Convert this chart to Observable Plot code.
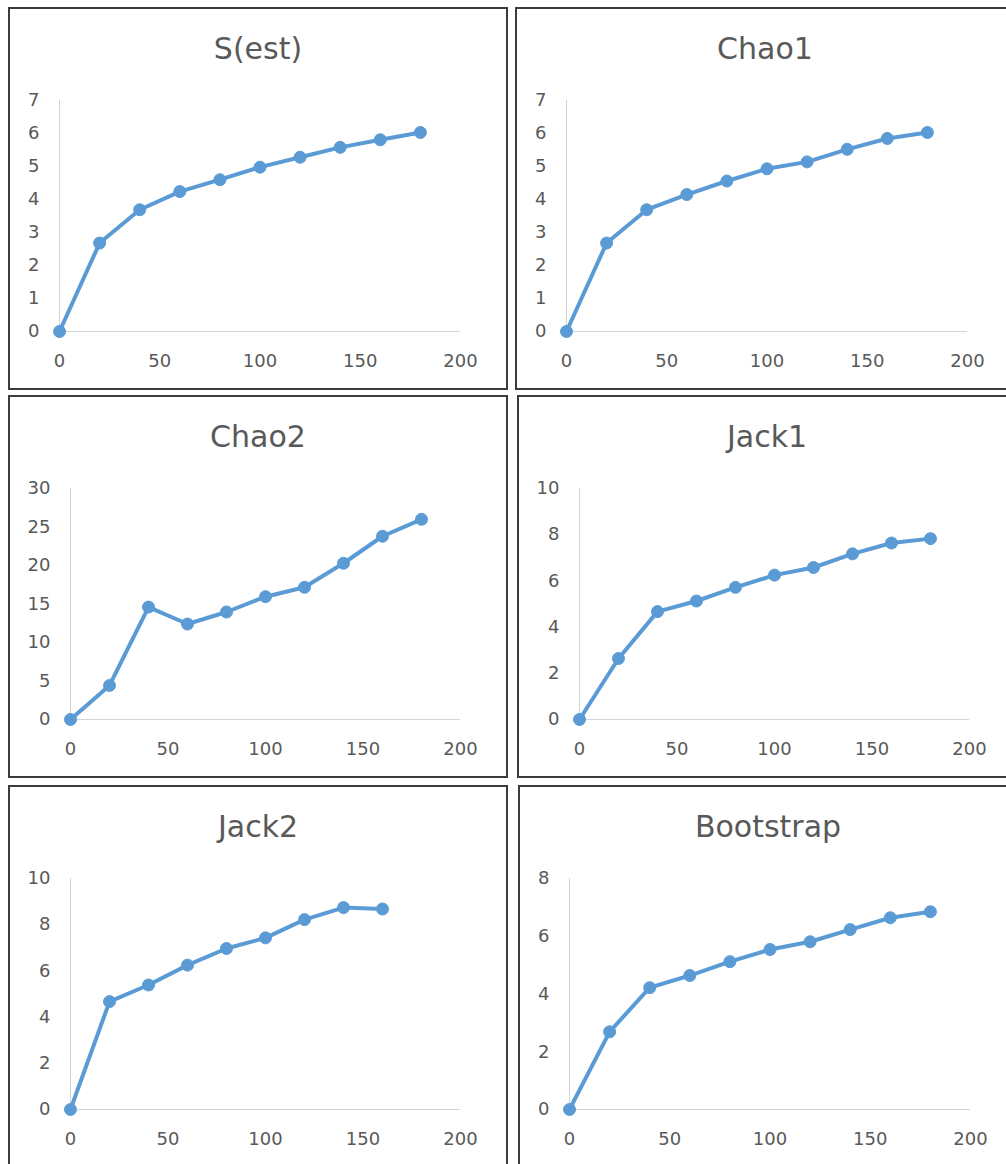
<!DOCTYPE html>
<html>
<head>
<meta charset="utf-8">
<script src="https://cdn.jsdelivr.net/npm/d3@7"></script>
<script src="https://cdn.jsdelivr.net/npm/@observablehq/plot@0.6"></script>
<style>
  html, body { margin: 0; padding: 0; background: #fff; overflow: hidden; }
  body { width: 1006px; height: 1164px; position: relative; }
  .panel { position: absolute; width: 500px; height: 383px; box-sizing: border-box;
           border: 2px solid #3c3c3c; background: #fff; }
  .panel .title { position: absolute; left: 0; right: 0; top: 22px; line-height: 36px;
           text-align: center; font-family: "DejaVu Sans", sans-serif; font-size: 30px; color: #595959; }
  .panel svg { position: absolute; left: 0; top: 0; }
</style>
</head>
<body>
<script>
// ---- data ----
const samples = [0, 20, 40, 60, 80, 100, 120, 140, 160, 180];
const titles = ["S(est)", "Chao1", "Chao2", "Jack1", "Jack2", "Bootstrap"];
const sEst      = [0, 2.68, 3.69, 4.24, 4.60, 4.98, 5.28, 5.58, 5.81, 6.03];
const chao1     = [0, 2.68, 3.69, 4.15, 4.56, 4.93, 5.14, 5.52, 5.85, 6.03];
const chao2     = [0, 4.42, 14.6, 12.4, 13.96, 15.95, 17.17, 20.29, 23.8, 26.0];
const jack1     = [0, 2.64, 4.67, 5.13, 5.72, 6.25, 6.58, 7.17, 7.64, 7.83];
const jack2     = [0, 4.67, 5.39, 6.25, 6.97, 7.43, 8.22, 8.74, 8.68];
const bootstrap = [0, 2.69, 4.22, 4.64, 5.12, 5.54, 5.81, 6.23, 6.64, 6.85];
const yMax  = [7, 7, 30, 10, 10, 8];
const yStep = [1, 1, 5, 2, 2, 2];
const xTicks = [0, 50, 100, 150, 200];

const seriesList = [sEst, chao1, chao2, jack1, jack2, bootstrap];
const panelPos = [[8, 7], [515, 7], [8, 395], [517, 395], [8, 785], [518, 785]];

seriesList.forEach((vals, i) => {
  const data = vals.map((v, k) => ({x: samples[k], y: v}));
  const yTicks = d3.range(0, yMax[i] + yStep[i] / 2, yStep[i]);
  const digits = String(yMax[i]).length;
  const panel = document.createElement("div");
  panel.className = "panel";
  panel.style.left = panelPos[i][0] + "px";
  panel.style.top = panelPos[i][1] + "px";
  const chart = Plot.plot({
    width: 496,
    height: 379,
    marginTop: 91,
    marginBottom: 57,
    marginLeft: digits > 1 ? 60 : 49,
    marginRight: 46,
    style: {fontFamily: "DejaVu Sans, sans-serif", fontSize: "18px", color: "#595959", background: "transparent", overflow: "visible"},
    x: {domain: [0, 200], ticks: xTicks, tickSize: 0, tickPadding: 23, label: null, tickFormat: d => String(d)},
    y: {domain: [0, yMax[i]], ticks: yTicks, tickSize: 0, tickPadding: 20, label: null, tickFormat: d => String(d)},
    marks: [
      Plot.ruleY([0], {stroke: "#d4d4d4", strokeWidth: 1}),
      Plot.ruleX([0], {stroke: "#d4d4d4", strokeWidth: 1}),
      Plot.line(data, {x: "x", y: "y", stroke: "#5b9bd5", strokeWidth: 4}),
      Plot.dot(data, {x: "x", y: "y", r: 6, fill: "#5b9bd5", stroke: "#5b9bd5", strokeWidth: 1})
    ]
  });
  panel.appendChild(chart);
  const t = document.createElement("div");
  t.className = "title";
  t.textContent = titles[i];
  panel.appendChild(t);
  document.body.appendChild(panel);
});
</script>
</body>
</html>
